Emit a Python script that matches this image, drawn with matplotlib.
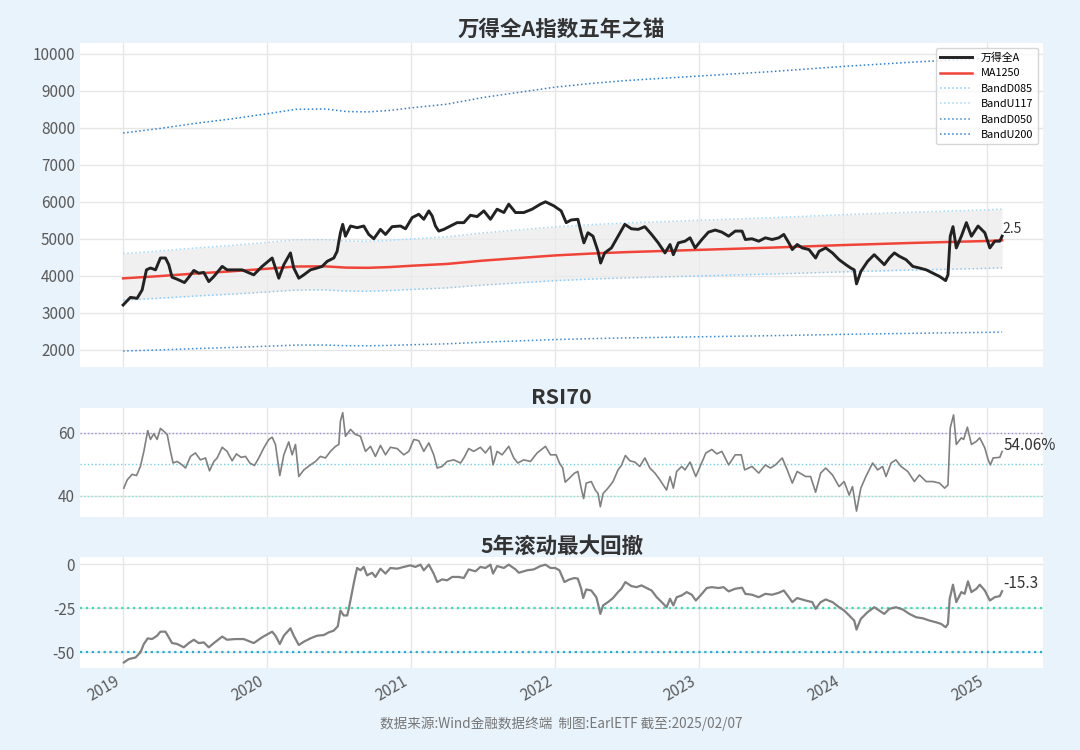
import matplotlib
matplotlib.use("Agg")
import matplotlib.pyplot as plt
import numpy as np

plt.rcParams['font.family'] = ['Noto Sans CJK SC', 'DejaVu Sans']
plt.rcParams['axes.unicode_minus'] = False

# ---- data (time in decimal years) ----
idx_t = [2019.000, 2019.051, 2019.097, 2019.132, 2019.162, 2019.190, 2019.225, 2019.259, 2019.294, 2019.317,
         2019.340, 2019.375, 2019.426, 2019.456, 2019.491, 2019.525, 2019.560, 2019.595, 2019.630, 2019.688,
         2019.722, 2019.780, 2019.826, 2019.907, 2019.965, 2020.035, 2020.081, 2020.116, 2020.162, 2020.185,
         2020.220, 2020.255, 2020.301, 2020.347, 2020.382, 2020.417, 2020.463, 2020.486, 2020.509, 2020.525,
         2020.544, 2020.579, 2020.625, 2020.671, 2020.706, 2020.741, 2020.787, 2020.822, 2020.868, 2020.926,
         2020.961, 2021.007, 2021.053, 2021.088, 2021.123, 2021.146, 2021.169, 2021.192, 2021.227, 2021.273,
         2021.319, 2021.366, 2021.412, 2021.458, 2021.505, 2021.551, 2021.597, 2021.644, 2021.678, 2021.725,
         2021.782, 2021.840, 2021.898, 2021.933, 2021.991, 2022.042, 2022.077, 2022.112, 2022.158, 2022.181,
         2022.200, 2022.228, 2022.263, 2022.298, 2022.316, 2022.344, 2022.391, 2022.437, 2022.484, 2022.530,
         2022.577, 2022.623, 2022.670, 2022.716, 2022.763, 2022.798, 2022.821, 2022.856, 2022.902, 2022.937,
         2022.972, 2023.019, 2023.065, 2023.112, 2023.158, 2023.205, 2023.251, 2023.298, 2023.321, 2023.367,
         2023.414, 2023.460, 2023.507, 2023.553, 2023.588, 2023.623, 2023.647, 2023.681, 2023.716, 2023.763,
         2023.809, 2023.833, 2023.879, 2023.926, 2023.972, 2024.019, 2024.053, 2024.077, 2024.093, 2024.123,
         2024.170, 2024.216, 2024.251, 2024.286, 2024.321, 2024.356, 2024.391, 2024.437, 2024.484, 2024.530,
         2024.577, 2024.623, 2024.670, 2024.712, 2024.728, 2024.744, 2024.763, 2024.786, 2024.821, 2024.856,
         2024.891, 2024.937, 2024.984, 2025.019, 2025.053, 2025.088, 2025.104]
idx_v = [3210, 3416, 3390, 3616, 4160, 4210, 4160, 4480, 4480, 4300,
         3960, 3907, 3816, 3960, 4144, 4070, 4090, 3843, 3980, 4253,
         4160, 4160, 4160, 4025, 4253, 4480, 3934, 4300, 4617, 4210,
         3934, 4025, 4160, 4210, 4253, 4390, 4480, 4660, 5163, 5390,
         5070, 5345, 5300, 5345, 5117, 5000, 5254, 5117, 5327, 5345,
         5270, 5572, 5663, 5527, 5754, 5618, 5345, 5208, 5254, 5345,
         5436, 5436, 5636, 5600, 5754, 5527, 5800, 5709, 5936, 5709,
         5709, 5800, 5936, 6000, 5890, 5754, 5436, 5509, 5527, 5163,
         4890, 5163, 5070, 4660, 4344, 4617, 4753, 5070, 5390, 5270,
         5254, 5327, 5117, 4890, 4617, 4845, 4570, 4890, 4935, 5026,
         4753, 4980, 5180, 5236, 5180, 5070, 5208, 5208, 4980, 5000,
         4935, 5026, 4980, 5026, 5117, 4890, 4708, 4845, 4753, 4708,
         4480, 4662, 4753, 4617, 4435, 4300, 4210, 4160, 3780, 4116,
         4390, 4570, 4435, 4300, 4480, 4617, 4526, 4435, 4253, 4210,
         4160, 4070, 3980, 3870, 4025, 5070, 5327, 4753, 5070, 5436,
         5070, 5345, 5163, 4753, 4935, 4935, 5070]

ma_t = [2019.0, 2019.25, 2019.5, 2019.75, 2020.0, 2020.2, 2020.4, 2020.55, 2020.7, 2020.85,
        2021.0, 2021.25, 2021.5, 2021.75, 2022.0, 2022.25, 2022.5, 2022.75, 2023.0, 2023.5,
        2024.0, 2024.5, 2025.0, 2025.104]
ma_v = [3930, 3990, 4060, 4120, 4190, 4250, 4255, 4220, 4215, 4235,
        4270, 4320, 4410, 4480, 4550, 4600, 4640, 4670, 4700, 4760,
        4830, 4890, 4940, 4960]

# bands are multiples of the 1250-day average
band_names = ['BandD085', 'BandU117', 'BandD050', 'BandU200']
band_mult = [0.85, 1.17, 0.50, 2.00]

rsi_t = [2019.005, 2019.028, 2019.063, 2019.093, 2019.120, 2019.144, 2019.171, 2019.190, 2019.213, 2019.236,
         2019.259, 2019.282, 2019.306, 2019.329, 2019.347, 2019.375, 2019.410, 2019.433, 2019.468, 2019.502,
         2019.537, 2019.572, 2019.600, 2019.630, 2019.653, 2019.688, 2019.722, 2019.757, 2019.787, 2019.819,
         2019.850, 2019.880, 2019.912, 2019.942, 2019.977, 2020.012, 2020.035, 2020.058, 2020.088, 2020.116,
         2020.150, 2020.174, 2020.197, 2020.220, 2020.255, 2020.301, 2020.336, 2020.370, 2020.405, 2020.440,
         2020.475, 2020.498, 2020.509, 2020.525, 2020.544, 2020.579, 2020.613, 2020.648, 2020.683, 2020.718,
         2020.752, 2020.787, 2020.822, 2020.856, 2020.903, 2020.949, 2020.984, 2021.019, 2021.053, 2021.088,
         2021.123, 2021.157, 2021.181, 2021.215, 2021.250, 2021.296, 2021.343, 2021.366, 2021.400, 2021.435,
         2021.481, 2021.516, 2021.551, 2021.569, 2021.597, 2021.632, 2021.678, 2021.713, 2021.741, 2021.782,
         2021.829, 2021.875, 2021.933, 2021.968, 2022.007, 2022.030, 2022.053, 2022.070, 2022.100, 2022.135,
         2022.158, 2022.181, 2022.198, 2022.216, 2022.251, 2022.279, 2022.298, 2022.314, 2022.333, 2022.367,
         2022.402, 2022.437, 2022.460, 2022.488, 2022.519, 2022.553, 2022.588, 2022.623, 2022.658, 2022.693,
         2022.728, 2022.774, 2022.798, 2022.821, 2022.844, 2022.879, 2022.902, 2022.937, 2022.977, 2023.007,
         2023.047, 2023.088, 2023.123, 2023.158, 2023.205, 2023.251, 2023.293, 2023.316, 2023.367, 2023.414,
         2023.460, 2023.495, 2023.530, 2023.577, 2023.612, 2023.647, 2023.681, 2023.740, 2023.774, 2023.809,
         2023.844, 2023.879, 2023.926, 2023.972, 2024.007, 2024.042, 2024.065, 2024.093, 2024.123, 2024.158,
         2024.205, 2024.240, 2024.274, 2024.298, 2024.333, 2024.367, 2024.402, 2024.449, 2024.495, 2024.530,
         2024.577, 2024.623, 2024.670, 2024.705, 2024.728, 2024.744, 2024.767, 2024.786, 2024.821, 2024.837,
         2024.863, 2024.891, 2024.926, 2024.949, 2024.984, 2025.007, 2025.023, 2025.042, 2025.088, 2025.104]
rsi_v = [42.4, 45.0, 46.8, 46.4, 49.3, 54.1, 60.7, 57.9, 59.7, 57.9,
         61.4, 60.5, 59.5, 54.1, 50.4, 50.9, 49.8, 48.8, 52.5, 53.6,
         51.4, 52.0, 47.9, 50.9, 52.0, 55.4, 54.1, 51.1, 53.3, 52.2,
         52.5, 50.4, 49.6, 52.0, 55.2, 57.9, 58.6, 56.3, 46.4, 53.0,
         57.1, 53.0, 56.3, 46.1, 48.2, 49.8, 50.9, 52.5, 52.0, 54.1,
         55.7, 56.3, 63.7, 66.4, 58.9, 61.1, 59.5, 58.9, 54.1, 55.7,
         52.5, 56.0, 53.0, 55.4, 55.0, 53.0, 54.1, 57.9, 57.5, 54.1,
         56.8, 53.0, 48.8, 49.3, 50.9, 51.4, 50.4, 52.0, 55.0, 54.1,
         55.4, 53.6, 55.7, 49.8, 54.1, 53.0, 55.7, 52.0, 50.4, 51.4,
         50.9, 53.6, 55.7, 53.0, 53.0, 50.4, 48.8, 44.3, 45.6, 47.2,
         47.7, 42.4, 39.1, 44.0, 44.5, 41.8, 40.7, 36.5, 40.7, 42.4,
         44.5, 48.2, 49.6, 52.8, 51.1, 50.7, 49.3, 52.0, 48.8, 47.2,
         45.0, 41.8, 46.1, 42.4, 47.7, 49.3, 48.2, 50.7, 46.1, 49.3,
         53.6, 54.7, 53.3, 54.1, 49.8, 53.0, 53.0, 48.2, 49.3, 47.2,
         49.8, 48.8, 49.8, 52.0, 48.2, 44.0, 47.7, 46.1, 46.1, 41.1,
         47.2, 48.8, 46.6, 42.9, 44.5, 40.2, 42.9, 35.1, 42.4, 46.1,
         50.4, 48.2, 49.3, 46.1, 50.4, 51.4, 49.3, 47.7, 44.5, 46.6,
         44.5, 44.5, 44.0, 42.4, 43.4, 61.6, 65.7, 56.3, 58.4, 57.9,
         61.8, 56.3, 57.3, 58.4, 55.2, 51.4, 49.8, 52.0, 52.2, 54.06]

dd_t = [2019.005, 2019.039, 2019.086, 2019.120, 2019.144, 2019.171, 2019.201, 2019.236, 2019.259, 2019.294,
        2019.317, 2019.340, 2019.375, 2019.421, 2019.456, 2019.491, 2019.525, 2019.560, 2019.595, 2019.630,
        2019.688, 2019.722, 2019.780, 2019.838, 2019.907, 2019.965, 2020.035, 2020.058, 2020.088, 2020.116,
        2020.162, 2020.185, 2020.220, 2020.255, 2020.301, 2020.347, 2020.394, 2020.428, 2020.463, 2020.491,
        2020.509, 2020.532, 2020.556, 2020.567, 2020.590, 2020.606, 2020.625, 2020.648, 2020.671, 2020.694,
        2020.729, 2020.752, 2020.787, 2020.822, 2020.856, 2020.903, 2020.949, 2020.995, 2021.030, 2021.065,
        2021.088, 2021.123, 2021.157, 2021.181, 2021.215, 2021.250, 2021.285, 2021.331, 2021.366, 2021.400,
        2021.447, 2021.481, 2021.516, 2021.551, 2021.569, 2021.597, 2021.644, 2021.678, 2021.725, 2021.748,
        2021.806, 2021.852, 2021.898, 2021.933, 2021.968, 2022.000, 2022.030, 2022.065, 2022.100, 2022.135,
        2022.158, 2022.181, 2022.195, 2022.216, 2022.251, 2022.286, 2022.298, 2022.314, 2022.333, 2022.367,
        2022.402, 2022.437, 2022.460, 2022.488, 2022.530, 2022.565, 2022.600, 2022.635, 2022.670, 2022.705,
        2022.740, 2022.774, 2022.798, 2022.821, 2022.844, 2022.879, 2022.914, 2022.949, 2022.977, 2023.019,
        2023.053, 2023.088, 2023.135, 2023.170, 2023.205, 2023.251, 2023.298, 2023.321, 2023.367, 2023.414,
        2023.460, 2023.507, 2023.553, 2023.588, 2023.623, 2023.647, 2023.681, 2023.740, 2023.786, 2023.809,
        2023.844, 2023.879, 2023.926, 2023.972, 2024.007, 2024.042, 2024.077, 2024.093, 2024.123, 2024.170,
        2024.216, 2024.251, 2024.286, 2024.321, 2024.367, 2024.414, 2024.460, 2024.507, 2024.553, 2024.600,
        2024.647, 2024.681, 2024.712, 2024.728, 2024.740, 2024.763, 2024.786, 2024.821, 2024.844, 2024.867,
        2024.891, 2024.926, 2024.949, 2024.984, 2025.019, 2025.053, 2025.088, 2025.104]
dd_v = [-55.8, -53.9, -53.0, -50.1, -45.3, -42.1, -42.5, -40.6, -38.3, -38.3,
        -41.5, -44.8, -45.3, -47.2, -44.8, -42.9, -44.8, -44.4, -47.2, -44.8,
        -41.1, -42.9, -42.5, -42.5, -44.8, -41.5, -38.3, -40.6, -45.3, -40.6,
        -36.4, -40.6, -45.9, -44.0, -42.1, -40.6, -40.2, -38.7, -37.7, -35.2,
        -26.3, -29.1, -29.1, -25.3, -15.8, -9.1, -2.1, -3.4, -1.5, -6.3,
        -4.8, -7.2, -2.5, -5.3, -2.1, -2.5, -1.5, -0.6, -1.5, -0.2,
        -3.4, -0.2, -5.3, -10.1, -8.6, -9.1, -7.2, -7.2, -7.8, -2.9,
        -4.0, -1.5, -2.1, -0.2, -5.3, -1.0, -2.1, -0.2, -2.9, -4.8,
        -3.4, -2.9, -1.0, -0.2, -2.1, -2.1, -3.4, -10.1, -8.6, -7.8,
        -8.2, -13.9, -19.2, -14.3, -14.9, -18.7, -22.5, -28.2, -23.4, -21.5,
        -19.2, -15.8, -13.9, -10.1, -12.4, -13.0, -12.0, -13.5, -14.9, -18.7,
        -21.5, -24.4, -19.6, -23.4, -18.7, -17.7, -15.8, -17.3, -20.6, -16.8,
        -13.5, -13.0, -13.5, -13.0, -15.4, -13.9, -13.3, -16.8, -17.3, -18.7,
        -16.8, -17.3, -16.2, -14.9, -18.7, -21.5, -19.2, -20.6, -21.5, -25.3,
        -21.5, -20.0, -21.5, -24.4, -26.3, -29.1, -32.0, -37.1, -31.0, -27.2,
        -24.4, -26.3, -28.2, -25.3, -24.4, -25.7, -28.2, -30.1, -30.7, -32.0,
        -33.0, -33.9, -35.8, -33.9, -19.6, -11.6, -21.5, -15.8, -16.8, -9.7,
        -15.8, -13.9, -11.6, -14.9, -20.6, -18.7, -18.1, -15.3]

years = [2019, 2020, 2021, 2022, 2023, 2024, 2025]
dev_label = '2.5'
rsi_label = '54.06%'
dd_label = '-15.3'

bg = '#e9f3fc'
title_kw = dict(fontsize=15.5, fontweight='bold', color='#333333')

fig = plt.figure(figsize=(10.8, 7.5), dpi=100, facecolor=bg)
ax1 = fig.add_axes([0.074, 0.511, 0.892, 0.432])
ax2 = fig.add_axes([0.074, 0.311, 0.892, 0.145])
ax3 = fig.add_axes([0.074, 0.109, 0.892, 0.148])

ma = np.array(ma_v, dtype=float)
bands = {n: ma * m for n, m in zip(band_names, band_mult)}

# main panel
ax1.fill_between(ma_t, bands['BandD085'], bands['BandU117'], color='#ebebeb', alpha=0.7, lw=0)
ax1.plot(idx_t, idx_v, color='#222222', lw=2.1, label='万得全A', zorder=5)
ax1.plot(ma_t, ma, color='#f04438', lw=1.8, label='MA1250', zorder=4)
ax1.plot(ma_t, bands['BandD085'], color='#8ccaf2', lw=1.1, ls=':', label='BandD085')
ax1.plot(ma_t, bands['BandU117'], color='#a6d8f5', lw=1.1, ls=':', label='BandU117')
ax1.plot(ma_t, bands['BandD050'], color='#3a8ad6', lw=1.1, ls=':', label='BandD050')
ax1.plot(ma_t, bands['BandU200'], color='#2f7fd0', lw=1.1, ls=':', label='BandU200')
ax1.set_ylim(1540, 10300)
ax1.set_yticks(range(2000, 10001, 1000))
ax1.set_title('万得全A指数五年之锚', pad=5, **title_kw)
ax1.annotate(dev_label, (idx_t[-1], idx_v[-1]), xytext=(0, 2), textcoords='offset points',
             fontsize=10, color='#333333')
leg = ax1.legend(loc='upper right', fontsize=7.8, frameon=True, fancybox=True,
                 borderpad=0.4, labelspacing=0.5, handlelength=3)
leg.get_frame().set_edgecolor('#cccccc')
leg.get_frame().set_facecolor('white')

# RSI panel
ax2.axhline(60, color='#9a8fd8', lw=1, ls=':')
ax2.axhline(50, color='#72d0e6', lw=1, ls=':')
ax2.axhline(40, color='#8fe3d3', lw=1, ls=':')
ax2.plot(rsi_t, rsi_v, color='#808080', lw=1.2)
ax2.set_ylim(33.3, 67.9)
ax2.set_yticks([40, 60])
ax2.set_title('RSI70', pad=3, **title_kw)
ax2.annotate(rsi_label, (rsi_t[-1], rsi_v[-1]), xytext=(1, 1), textcoords='offset points',
             fontsize=11, color='#333333')

# drawdown panel
ax3.axhline(-25, color='#3ddcb4', lw=1.6, ls=':')
ax3.axhline(-50, color='#1fb0d6', lw=1.6, ls=':')
ax3.plot(dd_t, dd_v, color='#808080', lw=1.6)
ax3.set_ylim(-59.1, 4.0)
ax3.set_yticks([0, -25, -50])
ax3.set_title('5年滚动最大回撤', pad=3, **title_kw)
ax3.annotate(dd_label, (dd_t[-1], dd_v[-1]), xytext=(1, 2), textcoords='offset points',
             fontsize=11, color='#333333')

for ax in (ax1, ax2, ax3):
    ax.set_facecolor('white')
    ax.set_xlim(2018.70, 2025.39)
    ax.set_xticks(years)
    ax.grid(True, color='#e6e6e6', lw=1)
    ax.set_axisbelow(True)
    for s in ax.spines.values():
        s.set_visible(False)
    ax.tick_params(length=0, labelsize=11, colors='#5a5a5a')

ax1.tick_params(labelbottom=False)
ax2.tick_params(labelbottom=False)
ax3.set_xticklabels([str(y) for y in years], rotation=30, ha='right')

fig.text(0.52, 0.035, '数据来源:Wind金融数据终端  制图:EarlETF 截至:2025/02/07',
         ha='center', va='center', fontsize=9.8, color='#777777')

fig.savefig('out.png', dpi=100, facecolor=bg)
